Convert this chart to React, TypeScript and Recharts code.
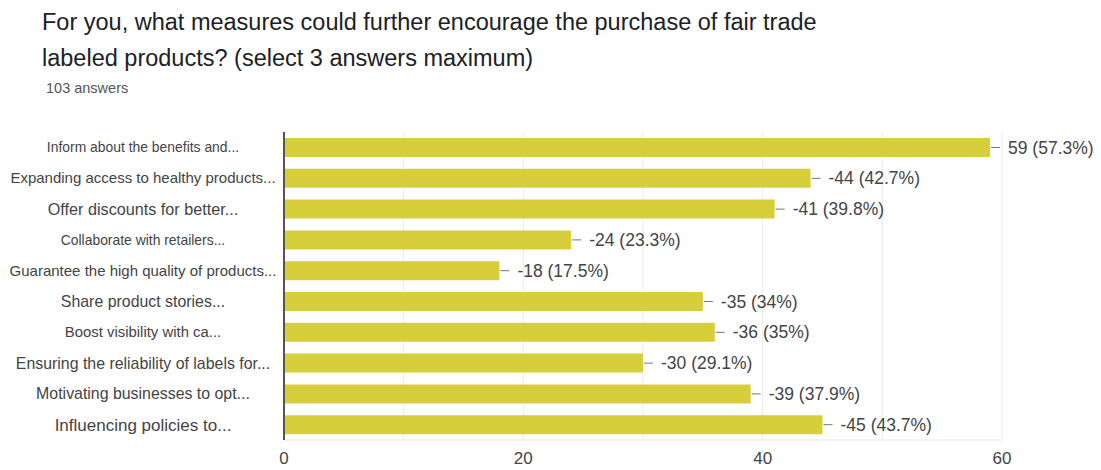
import { BarChart, Bar, XAxis, YAxis, CartesianGrid, LabelList } from "recharts";

const categories = [
  "Inform about the benefits and...",
  "Expanding access to healthy products...",
  "Offer discounts for better...",
  "Collaborate with retailers...",
  "Guarantee the high quality of products...",
  "Share product stories...",
  "Boost visibility with ca...",
  "Ensuring the reliability of labels for...",
  "Motivating businesses to opt...",
  "Influencing policies to...",
];
const counts = [59, 44, 41, 24, 18, 35, 36, 30, 39, 45];
const valueLabels = [
  "59 (57.3%)",
  "-44 (42.7%)",
  "-41 (39.8%)",
  "-24 (23.3%)",
  "-18 (17.5%)",
  "-35 (34%)",
  "-36 (35%)",
  "-30 (29.1%)",
  "-39 (37.9%)",
  "-45 (43.7%)",
];
const xTicks = [0, 10, 20, 30, 40, 50, 60];

// the scanned labels come in slightly different sizes
const labelFontSizes = [13.9, 15, 16.2, 13.9, 15, 15.9, 14.9, 15.9, 15.9, 17];

const data = categories.map((name, i) => ({
  name,
  count: counts[i],
  label: valueLabels[i],
}));

const FONT = '"Liberation Sans", Arial, sans-serif';
const TEXT = "#444";

const CategoryTick = (props: any) => {
  const { y, payload, index } = props;
  return (
    <text
      x={143}
      y={y}
      dy="0.35em"
      textAnchor="middle"
      fontSize={labelFontSizes[index] ?? 14}
      fontFamily={FONT}
      fill={TEXT}
    >
      {payload.value}
    </text>
  );
};

const ValueLabel = (props: any) => {
  const { x, y, width, height, value } = props;
  const end = x + width;
  const cy = y + height / 2;
  return (
    <g>
      <line x1={end + 1} x2={end + 10} y1={cy} y2={cy} stroke="#777" strokeWidth={1} />
      <text
        x={end + 18}
        y={cy}
        dy="0.35em"
        fontSize={17.5}
        fontFamily={FONT}
        fill={TEXT}
      >
        {value}
      </text>
    </g>
  );
};

export default function App() {
  return (
    <div
      style={{
        position: "absolute",
        left: 0,
        top: 0,
        width: 1101,
        height: 470,
        background: "#fff",
        fontFamily: FONT,
      }}
    >
      <div
        style={{
          position: "absolute",
          left: 42,
          top: 4,
          fontSize: 23.5,
          lineHeight: "36px",
          color: "#202124",
        }}
      >
        For you, what measures could further encourage the purchase of fair trade
        <br />
        labeled products? (select 3 answers maximum)
      </div>
      <div
        style={{
          position: "absolute",
          left: 46,
          top: 80,
          fontSize: 14.5,
          color: "#555",
        }}
      >
        103 answers
      </div>
      <div style={{ position: "absolute", left: 0, top: 0 }}>
        <BarChart
          width={1101}
          height={470}
          data={data}
          layout="vertical"
          margin={{ top: 132, right: 99, bottom: 0, left: 0 }}
          barSize={19}
        >
          <CartesianGrid horizontal={false} stroke="#ececec" />
          <XAxis
            type="number"
            domain={[0, 60]}
            ticks={xTicks}
            interval={0}
            tickFormatter={(v: number) => (v % 20 === 0 ? String(v) : "")}
            axisLine={{ stroke: "#e6e6e6" }}
            tickLine={false}
            tick={{ fontSize: 17, fill: TEXT, fontFamily: FONT, dy: 4 }}
            height={30}
          />
          <XAxis
            xAxisId="top"
            type="number"
            orientation="top"
            domain={[0, 60]}
            axisLine={{ stroke: "#ececec" }}
            tick={false}
            tickLine={false}
            height={0}
          />
          <YAxis
            type="category"
            dataKey="name"
            width={284}
            axisLine={{ stroke: "#555", strokeWidth: 2 }}
            tickLine={false}
            interval={0}
            tick={<CategoryTick />}
          />
          <Bar dataKey="count" fill="#d6cf3b" isAnimationActive={false}>
            <LabelList dataKey="label" content={<ValueLabel />} />
          </Bar>
        </BarChart>
      </div>
    </div>
  );
}
